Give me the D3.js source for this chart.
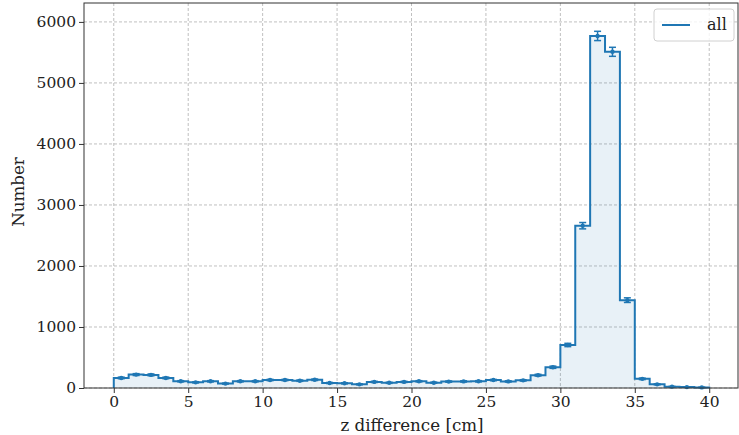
<!DOCTYPE html>
<html>
<head>
<meta charset="utf-8">
<script src="https://cdn.jsdelivr.net/npm/d3@7"></script>
<style>
  body { margin: 0; background: #fff; }
  text { font-family: "DejaVu Serif", serif; }
</style>
</head>
<body>
<svg width="739" height="435"></svg>
<script>
var counts = [165, 220, 215, 165, 110, 93, 110, 72, 110, 110,
              131, 131, 120, 135, 82, 77, 60, 100, 85, 100,
              110, 87, 105, 108, 110, 130, 108, 125, 210, 340,
              705, 2660, 5770, 5510, 1440, 150, 60, 22, 15, 10];
var errs = [13, 15, 15, 13, 10, 10, 10, 8, 10, 10,
            11, 11, 11, 12, 9, 9, 8, 10, 9, 10,
            10, 9, 10, 10, 10, 11, 10, 11, 14, 18,
            27, 52, 76, 74, 38, 12, 8, 5, 4, 3];
var edges = d3.range(0, 41);
var xTicks = [0, 5, 10, 15, 20, 25, 30, 35, 40];
var yTicks = [0, 1000, 2000, 3000, 4000, 5000, 6000];
var seriesName = 'all';

var pLeft = 84, pRight = 739, pTop = 3, pBottom = 388;
var blue = '#1f77b4';

var svg = d3.select('svg');

var x = d3.scaleLinear().domain([-2, 42]).range([pLeft, pRight]);
var y = d3.scaleLinear().domain([0, 6310]).range([pBottom, pTop]);

// grid
var grid = svg.append('g')
grid.selectAll('.gx').data(xTicks).enter().append('line')
	.attr('x1', d => x(d)).attr('x2', d => x(d))
	.attr('y1', pTop).attr('y2', pBottom)
	.style('stroke', '#b0b0b0').style('stroke-width', 0.8)
	.style('stroke-dasharray', '3,2')
grid.selectAll('.gy').data(yTicks).enter().append('line')
	.attr('x1', pLeft).attr('x2', pRight)
	.attr('y1', d => y(d)).attr('y2', d => y(d))
	.style('stroke', '#b0b0b0').style('stroke-width', 0.8)
	.style('stroke-dasharray', '3,2')

// step points
var pts = [[edges[0], 0]];
counts.forEach(function(c, i){ pts.push([edges[i], c]); });
pts.push([edges[edges.length - 1], counts[counts.length - 1]]);
pts.push([edges[edges.length - 1], 0]);

var step = d3.line()
	.x(d => x(d[0]))
	.y(d => y(d[1]))
	.curve(d3.curveStepAfter)

svg.append('path')
	.attr('d', step(pts))
	.style('fill', blue)
	.style('fill-opacity', 0.1)
	.style('stroke', 'none')

svg.append('path')
	.attr('d', step(pts))
	.style('fill', 'none')
	.style('stroke', blue)
	.style('stroke-width', 2)
	.style('stroke-linejoin', 'miter')

// error bars
var eb = svg.append('g').selectAll('g').data(counts).enter().append('g')
	.attr('transform', (d, i) => 'translate(' + x(i + 0.5) + ',0)')
eb.append('line')
	.attr('y1', (d, i) => y(d - errs[i])).attr('y2', (d, i) => y(d + errs[i]))
	.style('stroke', blue).style('stroke-width', 1.5)
eb.append('line')
	.attr('x1', -3.5).attr('x2', 3.5)
	.attr('y1', (d, i) => y(d - errs[i])).attr('y2', (d, i) => y(d - errs[i]))
	.style('stroke', blue).style('stroke-width', 1.5)
eb.append('line')
	.attr('x1', -3.5).attr('x2', 3.5)
	.attr('y1', (d, i) => y(d + errs[i])).attr('y2', (d, i) => y(d + errs[i]))
	.style('stroke', blue).style('stroke-width', 1.5)
eb.append('circle')
	.attr('cy', d => y(d)).attr('r', 2.2)
	.style('fill', blue)

// axes
var xAxis = svg.append('g')
	.attr('transform', 'translate(0,' + pBottom + ')')
	.call(d3.axisBottom(x).tickValues(xTicks).tickSize(5).tickPadding(3))
var yAxis = svg.append('g')
	.attr('transform', 'translate(' + pLeft + ',0)')
	.call(d3.axisLeft(y).tickValues(yTicks).tickSize(5).tickPadding(3).tickFormat(d3.format('d')))
;[xAxis, yAxis].forEach(function(a){
	a.select('.domain').remove();
	a.selectAll('line').style('stroke', '#333').style('stroke-width', 1);
	a.selectAll('text').style('font-size', '15.5px').style('fill', '#222')
		.style('font-family', '"DejaVu Serif", serif');
})

// frame
svg.append('rect')
	.attr('x', pLeft).attr('y', pTop)
	.attr('width', pRight - pLeft - 1).attr('height', pBottom - pTop)
	.style('fill', 'none').style('stroke', '#333').style('stroke-width', 1)

// labels
svg.append('text')
	.attr('x', 412).attr('y', 431)
	.attr('text-anchor', 'middle')
	.style('font-size', '16.7px').style('fill', '#222')
	.text('z difference [cm]')
svg.append('text')
	.attr('transform', 'translate(24,' + 192 + ') rotate(-90)')
	.attr('text-anchor', 'middle')
	.style('font-size', '16.7px').style('fill', '#222')
	.text('Number')

// legend
var lg = svg.append('g').attr('transform', 'translate(654,9)')
lg.append('rect')
	.attr('width', 80).attr('height', 32).attr('rx', 3)
	.style('fill', '#fff').style('fill-opacity', 0.8)
	.style('stroke', '#d0d0d0')
lg.append('line')
	.attr('x1', 8).attr('x2', 36).attr('y1', 16).attr('y2', 16)
	.style('stroke', blue).style('stroke-width', 2)
lg.append('text')
	.attr('x', 53).attr('y', 21)
	.style('font-size', '16px').style('fill', '#222')
	.text(seriesName)
</script>
</body>
</html>
